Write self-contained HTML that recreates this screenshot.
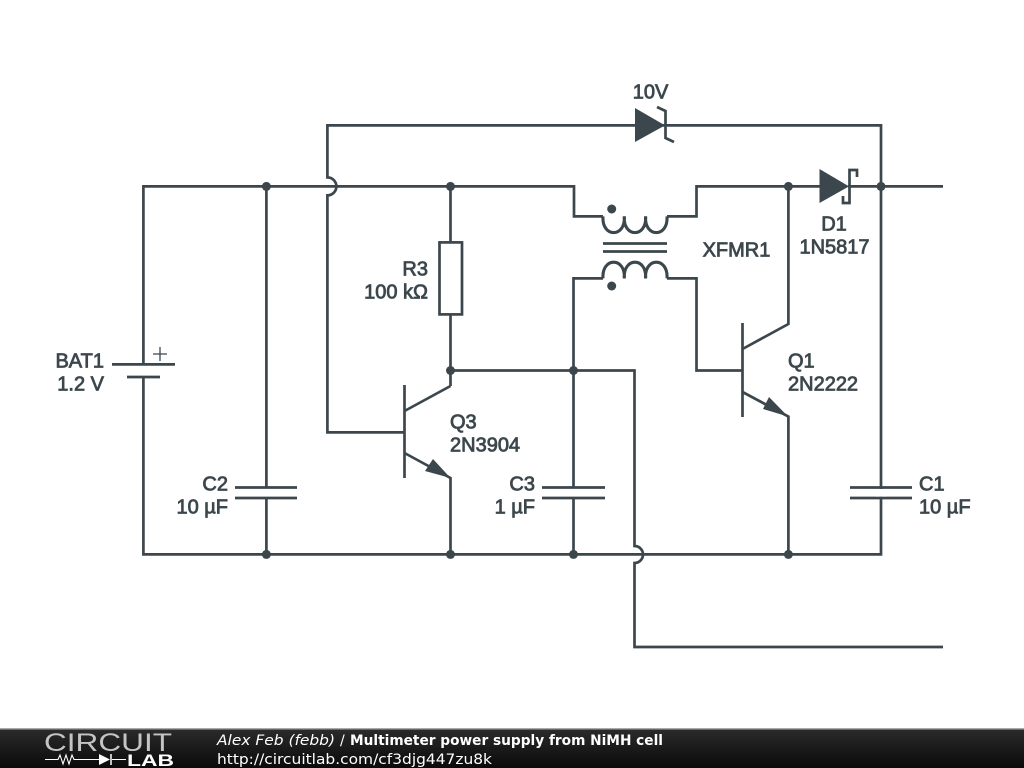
<!DOCTYPE html>
<html><head><meta charset="utf-8"><title>Multimeter power supply from NiMH cell</title>
<style>
html,body{margin:0;padding:0;background:#fff;width:1024px;height:768px;overflow:hidden}
svg{display:block}
.l{font-family:"Liberation Sans",sans-serif;font-size:20px;fill:#3c474d;stroke:#3c474d;stroke-width:.8px}
.f{font-family:"DejaVu Sans",sans-serif;font-size:14px;fill:#fff}
</style></head><body>
<svg width="1024" height="768" viewBox="0 0 1024 768" xmlns="http://www.w3.org/2000/svg">
<defs><linearGradient id="g" x1="0" y1="0" x2="0" y2="1"><stop offset="0" stop-color="#2b2b2b"/><stop offset="1" stop-color="#0a0a0a"/></linearGradient></defs>
<rect width="1024" height="768" fill="#fff"/>
<g fill="none" stroke="#3c474d" stroke-width="2.7" stroke-linejoin="miter">
<!-- rails -->
<path d="M143.400 364V186.400H574V216.400H603"/>
<path d="M143.400 377V554.400H628"/><path d="M628 554.400H881V125.400H327.400V177.400A9 9 0 0 1 327.400 195.400V432.400H404"/>
<path d="M667 216.400H696.500V186.400H820"/><path d="M848 186.400H943"/>
<!-- transformer -->
<path stroke-width="3.100" d="M603 216.400C601.500 238 625.800 238 624.300 216.400C622.800 238 647.100 238 645.600 216.400C644.100 238 668.500 238 667 216.400"/>
<path d="M603 243.500H667M603 251.500H667"/>
<path stroke-width="3.100" d="M603 278.400C601.500 256.800 625.800 256.800 624.300 278.400C622.800 256.800 647.100 256.800 645.600 278.400C644.100 256.800 668.500 256.800 667 278.400"/>
<path d="M603 278.400H573.500V487.500"/><path d="M573.500 498V554"/>
<path d="M667 278.400H696.500V370.500H742"/>
<!-- R3 -->
<path d="M450.500 186V242M450.500 314V386"/><rect x="439.500" y="242.400" width="22.500" height="72"/>
<path d="M450.500 370.500H634.500V546A8.500 8.500 0 0 1 634.500 563V647H943"/>
<!-- Q3 -->
<path d="M404.500 385V478"/><path d="M404.500 411L450.500 386"/><path d="M404.500 453L450.500 478V554"/>
<!-- Q1 -->
<path d="M742.500 323V417"/><path d="M742.500 349L788.400 324V186"/><path d="M742.500 392L788.400 416.500V554"/>
<!-- caps -->
<path d="M266.400 186V487.500M235 487.500H297M235 498H297M266.400 498V554"/>
<path d="M542 487.500H605M542 498H605"/>
<path d="M850 487.500H912M850 498H912"/>
<!-- battery -->
<path d="M112 364.400H175M127 377H160" /><path d="M153 354H167M160 347V361" stroke-width="1.300"/>
<!-- zener cathode -->
<path d="M657 107L665.500 111V138L674 142"/>
<!-- schottky cathode -->
<path d="M857 177V170H849.500V203H843V196"/>
</g>
<rect x="876" y="489" width="10" height="7.600" fill="#fff"/>
<g fill="#3c474d">
<path d="M635 108L665 125.400L635 142Z"/>
<path d="M819.500 169L849 186.400L819.500 203Z"/>
<path d="M450.500 478L433 459L425 471Z"/>
<path d="M788 416.500L769 397L763 409Z"/>
<circle cx="266.400" cy="186.400" r="4.500"/><circle cx="450.500" cy="186.400" r="4.500"/><circle cx="788.400" cy="186.400" r="4.500"/><circle cx="881" cy="186.400" r="4.500"/>
<circle cx="450.500" cy="370.500" r="4.500"/><circle cx="573.500" cy="370.500" r="4.500"/>
<circle cx="266.400" cy="554.400" r="4.500"/><circle cx="450.500" cy="554.400" r="4.500"/><circle cx="573.500" cy="554.400" r="4.500"/><circle cx="788.400" cy="554.400" r="4.500"/>
<circle cx="611.700" cy="209" r="4.500"/><circle cx="611.700" cy="286" r="4.500"/>
</g>
<g class="l">
<text x="650.500" y="98.500" text-anchor="middle">10V</text>
<text x="834" y="230.500" text-anchor="middle">D1</text>
<text x="834.500" y="253.500" text-anchor="middle">1N5817</text>
<text x="736.500" y="256.500" text-anchor="middle">XFMR1</text>
<text x="428" y="275.500" text-anchor="end">R3</text>
<text x="428" y="298.500" text-anchor="end">100 kΩ</text>
<text x="104" y="367.500" text-anchor="end">BAT1</text>
<text x="104" y="390.500" text-anchor="end">1.2 V</text>
<text x="450" y="428.500">Q3</text>
<text x="450" y="451.500">2N3904</text>
<text x="788" y="367.500">Q1</text>
<text x="788" y="390.500">2N2222</text>
<text x="228" y="490.500" text-anchor="end">C2</text>
<text x="228" y="513.500" text-anchor="end">10 µF</text>
<text x="535" y="490.500" text-anchor="end">C3</text>
<text x="535" y="513.500" text-anchor="end">1 µF</text>
<text x="919" y="490.500">C1</text>
<text x="919" y="513.500">10 µF</text>
</g>
<!-- footer -->
<rect x="0" y="729" width="1024" height="39" fill="url(#g)"/>
<rect x="0" y="728" width="1024" height="1.500" fill="#aaa"/>
<text x="44" y="751" font-family="Liberation Sans,sans-serif" font-size="25" fill="#c4c4c4" textLength="128" lengthAdjust="spacingAndGlyphs">CIRCUIT</text>
<text x="127" y="766" font-family="Liberation Sans,sans-serif" font-size="17" font-weight="bold" fill="#fff" textLength="47" lengthAdjust="spacingAndGlyphs">LAB</text>
<path d="M45 759.500H58L60 755L63 764L66 755L69 764L72 755L74 759.500H99M112 759.500H126" fill="none" stroke="#fff" stroke-width="1.100"/>
<path d="M99 754L110 759.500L99 765Z" fill="#fff"/><path d="M111 754V765" stroke="#fff" stroke-width="1.500"/>
<text class="f" x="217" y="745" font-style="italic" textLength="118" lengthAdjust="spacingAndGlyphs">Alex Feb (febb)</text>
<text class="f" x="340" y="745">/</text>
<text class="f" x="350" y="745" font-weight="bold" textLength="313" lengthAdjust="spacingAndGlyphs">Multimeter power supply from NiMH cell</text>
<text class="f" x="217" y="764" textLength="275" lengthAdjust="spacingAndGlyphs">http://circuitlab.com/cf3djg447zu8k</text>
</svg>
</body></html>
